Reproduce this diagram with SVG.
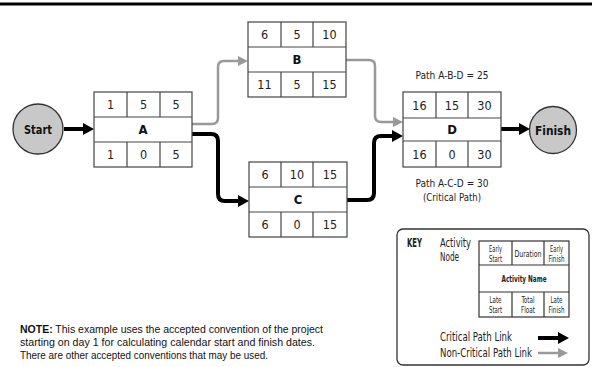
<svg xmlns="http://www.w3.org/2000/svg" width="592" height="367" viewBox="0 0 592 367">
<defs>
<style>
.box{fill:#fff;stroke:#444;stroke-width:1.2}
.num{font-family:"DejaVu Sans Condensed","DejaVu Sans",sans-serif;font-size:12.5px;fill:#222;text-anchor:middle}
.name{font-family:"DejaVu Sans Condensed","DejaVu Sans",sans-serif;font-size:13px;font-weight:bold;fill:#111;text-anchor:middle}
.circ{fill:#c8c8c8;stroke:#333;stroke-width:1.3}
.lbl{font-family:"DejaVu Sans Condensed","DejaVu Sans",sans-serif;font-size:10.5px;fill:#222;text-anchor:middle}
.crit{fill:none;stroke:#000;stroke-width:4}
.non{fill:none;stroke:#999;stroke-width:2.5}
.small{font-family:"DejaVu Sans Condensed","DejaVu Sans",sans-serif;font-size:9px;fill:#222;text-anchor:middle}
.note{font-family:"Liberation Sans",Arial,sans-serif;font-size:10.4px;fill:#111}
.key{font-family:"DejaVu Sans Condensed","DejaVu Sans",sans-serif;font-size:12px;fill:#222}
</style>
<marker id="hb" markerUnits="userSpaceOnUse" markerWidth="12" markerHeight="12" refX="0" refY="6" orient="auto" viewBox="0 0 12 12"><path d="M0,0 L11,6 L0,12 z" fill="#000"/></marker>
<marker id="hg" markerUnits="userSpaceOnUse" markerWidth="12" markerHeight="12" refX="0" refY="6" orient="auto" viewBox="0 0 12 12"><path d="M0,1 L10,6 L0,11 z" fill="#999"/></marker>
</defs>
<rect width="592" height="367" fill="#fff"/>
<line x1="0" y1="4" x2="592" y2="4" stroke="#000" stroke-width="3"/>

<g id="connectors">
<line class="crit" x1="64" y1="129" x2="83" y2="129" marker-end="url(#hb)"/>
<line class="crit" x1="501" y1="129" x2="519" y2="129" marker-end="url(#hb)"/>
<path class="non" d="M192,124 H212 Q218,124 218,118 V67 Q218,61 224,61 H238" marker-end="url(#hg)"/>
<path class="crit" d="M192,134 H211 Q218,134 218,141 V194 Q218,201 225,201 H238" marker-end="url(#hb)"/>
<path class="non" d="M346,60 H369 Q375,60 375,66 V116 Q375,122 381,122 H393" marker-end="url(#hg)"/>
<path class="crit" d="M347,200 H367 Q374,200 374,193 V143 Q374,136 381,136 H392" marker-end="url(#hb)"/>
</g>

<g id="start"><circle class="circ" cx="38" cy="129" r="25"/><text class="name" x="38" y="134" textLength="28" lengthAdjust="spacingAndGlyphs">Start</text></g>
<g id="finish"><circle class="circ" cx="553" cy="130" r="23.5"/><text class="name" x="553" y="135" textLength="36" lengthAdjust="spacingAndGlyphs">Finish</text></g>

<g id="nodeA">
<rect class="box" x="94" y="92" width="98" height="75"/>
<line class="box" x1="94" y1="117" x2="192" y2="117"/><line class="box" x1="94" y1="142" x2="192" y2="142"/>
<line class="box" x1="127" y1="92" x2="127" y2="117"/><line class="box" x1="160" y1="92" x2="160" y2="117"/>
<line class="box" x1="127" y1="142" x2="127" y2="167"/><line class="box" x1="160" y1="142" x2="160" y2="167"/>
<text class="num" x="110.5" y="109">1</text><text class="num" x="143.5" y="109">5</text><text class="num" x="176" y="109">5</text>
<text class="name" x="143" y="134">A</text>
<text class="num" x="110.5" y="159">1</text><text class="num" x="143.5" y="159">0</text><text class="num" x="176" y="159">5</text>
</g>

<g id="nodeB">
<rect class="box" x="248" y="22" width="98" height="75"/>
<line class="box" x1="248" y1="47" x2="346" y2="47"/><line class="box" x1="248" y1="72" x2="346" y2="72"/>
<line class="box" x1="281" y1="22" x2="281" y2="47"/><line class="box" x1="313" y1="22" x2="313" y2="47"/>
<line class="box" x1="281" y1="72" x2="281" y2="97"/><line class="box" x1="313" y1="72" x2="313" y2="97"/>
<text class="num" x="264.5" y="39">6</text><text class="num" x="297" y="39">5</text><text class="num" x="329.5" y="39">10</text>
<text class="name" x="297" y="64">B</text>
<text class="num" x="264.5" y="89">11</text><text class="num" x="297" y="89">5</text><text class="num" x="329.5" y="89">15</text>
</g>

<g id="nodeC">
<rect class="box" x="249" y="162" width="98" height="75"/>
<line class="box" x1="249" y1="187" x2="347" y2="187"/><line class="box" x1="249" y1="212" x2="347" y2="212"/>
<line class="box" x1="281" y1="162" x2="281" y2="187"/><line class="box" x1="313" y1="162" x2="313" y2="187"/>
<line class="box" x1="281" y1="212" x2="281" y2="237"/><line class="box" x1="313" y1="212" x2="313" y2="237"/>
<text class="num" x="265" y="179">6</text><text class="num" x="297" y="179">10</text><text class="num" x="330" y="179">15</text>
<text class="name" x="298" y="204">C</text>
<text class="num" x="265" y="229">6</text><text class="num" x="297" y="229">0</text><text class="num" x="330" y="229">15</text>
</g>

<g id="nodeD">
<rect class="box" x="403" y="92" width="98" height="75"/>
<line class="box" x1="403" y1="118" x2="501" y2="118"/><line class="box" x1="403" y1="141" x2="501" y2="141"/>
<line class="box" x1="436" y1="92" x2="436" y2="118"/><line class="box" x1="468" y1="92" x2="468" y2="118"/>
<line class="box" x1="436" y1="141" x2="436" y2="167"/><line class="box" x1="468" y1="141" x2="468" y2="167"/>
<text class="num" x="419.5" y="110">16</text><text class="num" x="452" y="110">15</text><text class="num" x="484.5" y="110">30</text>
<text class="name" x="452" y="134">D</text>
<text class="num" x="419.5" y="159">16</text><text class="num" x="452" y="159">0</text><text class="num" x="484.5" y="159">30</text>
</g>

<g id="labels">
<text class="lbl" x="452" y="79" textLength="73" lengthAdjust="spacingAndGlyphs">Path A-B-D = 25</text>
<text class="lbl" x="452" y="187" textLength="73" lengthAdjust="spacingAndGlyphs">Path A-C-D = 30</text>
<text class="lbl" x="452" y="201" textLength="58" lengthAdjust="spacingAndGlyphs">(Critical Path)</text>
</g>

<g id="key">
<rect x="397" y="229" width="192" height="136" rx="6" fill="#fff" stroke="#333" stroke-width="1.3"/>
<text class="key" x="407" y="247" font-weight="bold" textLength="15" lengthAdjust="spacingAndGlyphs">KEY</text>
<text class="key" x="440" y="247" textLength="31" lengthAdjust="spacingAndGlyphs">Activity</text>
<text class="key" x="440" y="261" textLength="19" lengthAdjust="spacingAndGlyphs">Node</text>
<rect x="479" y="241" width="90" height="76" fill="#fff" stroke="#333" stroke-width="1.2"/>
<line x1="479" y1="265" x2="569" y2="265" stroke="#333" stroke-width="1.2"/>
<line x1="479" y1="292" x2="569" y2="292" stroke="#333" stroke-width="1.2"/>
<line x1="512" y1="241" x2="512" y2="265" stroke="#333" stroke-width="1.2"/>
<line x1="544" y1="241" x2="544" y2="265" stroke="#333" stroke-width="1.2"/>
<line x1="512" y1="292" x2="512" y2="317" stroke="#333" stroke-width="1.2"/>
<line x1="544" y1="292" x2="544" y2="317" stroke="#333" stroke-width="1.2"/>
<text class="small" x="495.5" y="252" textLength="13" lengthAdjust="spacingAndGlyphs">Early</text><text class="small" x="495.5" y="261.5" textLength="13" lengthAdjust="spacingAndGlyphs">Start</text>
<text class="small" x="528" y="257" textLength="27" lengthAdjust="spacingAndGlyphs">Duration</text>
<text class="small" x="556.5" y="252" textLength="13" lengthAdjust="spacingAndGlyphs">Early</text><text class="small" x="556.5" y="261.5" textLength="16" lengthAdjust="spacingAndGlyphs">Finish</text>
<text class="small" x="524" y="282" font-weight="bold" textLength="45" lengthAdjust="spacingAndGlyphs">Activity Name</text>
<text class="small" x="495.5" y="303" textLength="12" lengthAdjust="spacingAndGlyphs">Late</text><text class="small" x="495.5" y="312.5" textLength="13" lengthAdjust="spacingAndGlyphs">Start</text>
<text class="small" x="528" y="303" textLength="13" lengthAdjust="spacingAndGlyphs">Total</text><text class="small" x="528" y="312.5" textLength="14" lengthAdjust="spacingAndGlyphs">Float</text>
<text class="small" x="556.5" y="303" textLength="12" lengthAdjust="spacingAndGlyphs">Late</text><text class="small" x="556.5" y="312.5" textLength="16" lengthAdjust="spacingAndGlyphs">Finish</text>
<text class="key" x="440" y="341" textLength="72" lengthAdjust="spacingAndGlyphs">Critical Path Link</text>
<text class="key" x="440" y="357" textLength="92" lengthAdjust="spacingAndGlyphs">Non-Critical Path Link</text>
<line class="crit" x1="538" y1="338" x2="558" y2="338" marker-end="url(#hb)"/>
<line class="non" x1="538" y1="353" x2="558" y2="353" marker-end="url(#hg)"/>
</g>

<g id="note">
<text class="note" x="20" y="333" textLength="303" lengthAdjust="spacingAndGlyphs"><tspan font-weight="bold">NOTE:</tspan> This example uses the accepted convention of the project</text>
<text class="note" x="20" y="346" textLength="295" lengthAdjust="spacingAndGlyphs">starting on day 1 for calculating calendar start and finish dates.</text>
<text class="note" x="20" y="359" textLength="248" lengthAdjust="spacingAndGlyphs">There are other accepted conventions that may be used.</text>
</g>
</svg>
